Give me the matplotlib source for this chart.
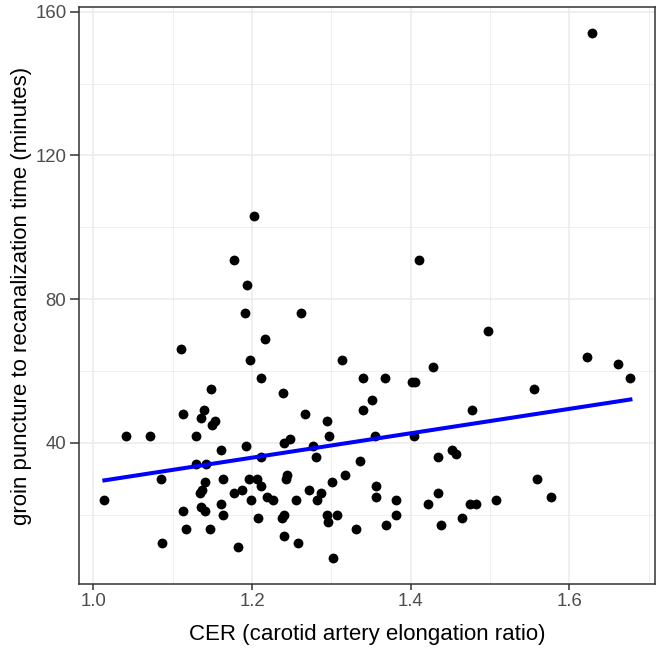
import numpy as np
import matplotlib
matplotlib.use('Agg')
import matplotlib.pyplot as plt

plt.rcParams['font.family'] = ['Liberation Sans', 'DejaVu Sans']

# CER values and groin puncture to recanalization time (minutes)
cer = [1.191, 1.262, 1.217, 1.111, 1.197, 1.314, 1.211, 1.340, 1.148, 1.239,
       1.351, 1.113, 1.139, 1.136, 1.267, 1.340, 1.153, 1.150, 1.294, 1.041,
       1.071, 1.130, 1.297, 1.240, 1.248, 1.192, 1.277, 1.161, 1.211, 1.281,
       1.355, 1.336, 1.129, 1.142, 1.014, 1.085, 1.163, 1.196, 1.206, 1.244,
       1.243, 1.317, 1.141, 1.211, 1.301, 1.137, 1.135, 1.177, 1.188, 1.272,
       1.287, 1.219, 1.227, 1.199, 1.255, 1.282, 1.161, 1.356, 1.356, 1.136,
       1.141, 1.113, 1.163, 1.240, 1.238, 1.208, 1.294, 1.307, 1.296, 1.117,
       1.147, 1.331, 1.240, 1.086, 1.182, 1.258, 1.302, 1.497, 1.622, 1.661,
       1.677, 1.368, 1.402, 1.406, 1.428, 1.556, 1.477, 1.404, 1.435, 1.452,
       1.457, 1.559, 1.577, 1.435, 1.422, 1.381, 1.382, 1.369, 1.438, 1.465,
       1.475, 1.483, 1.508, 1.202, 1.177, 1.194, 1.628, 1.411]
time_min = [76, 76, 69, 66, 63, 63, 58, 58, 55, 54,
            52, 48, 49, 47, 48, 49, 46, 45, 46, 42,
            42, 42, 42, 40, 41, 39, 39, 38, 36, 36,
            42, 35, 34, 34, 24, 30, 30, 30, 30, 31,
            30, 31, 29, 28, 29, 27, 26, 26, 27, 27,
            26, 25, 24, 24, 24, 24, 23, 28, 25, 22,
            21, 21, 20, 20, 19, 19, 20, 20, 18, 16,
            16, 16, 14, 12, 11, 12, 8, 71, 64, 62,
            58, 58, 57, 57, 61, 55, 49, 42, 36, 38,
            37, 30, 25, 26, 23, 24, 20, 17, 17, 19,
            23, 23, 24, 103, 91, 84, 154, 91]

x = np.array(cer)
y = np.array(time_min)
slope, intercept = np.polyfit(x, y, 1)
xs = np.array([x.min(), x.max()])

W, H = 661, 648
fig = plt.figure(figsize=(W/100, H/100), dpi=100)
ax = fig.add_axes([79/W, (H-584)/H, (655-79)/W, (584-7)/H])

ax.scatter(x, y, s=50, color='black', linewidths=0, zorder=3)
ax.plot(xs, intercept + slope*xs, color='#0000FF', lw=2.9, zorder=4)

ax.set_xlim(0.982, 1.708)
ax.set_ylim(0.7, 161.3)
ax.set_xticks([1.0, 1.2, 1.4, 1.6])
ax.set_xticklabels(['1.0', '1.2', '1.4', '1.6'])
ax.set_yticks([40, 80, 120, 160])
ax.set_xticks([1.1, 1.3, 1.5, 1.7], minor=True)
ax.set_yticks([20, 60, 100, 140], minor=True)

ax.grid(which='major', color='#EBEBEB', lw=1.1, zorder=0)
ax.grid(which='minor', color='#EBEBEB', lw=0.55, zorder=0)
ax.set_axisbelow(True)

for s in ax.spines.values():
    s.set_color('#333333')
    s.set_linewidth(1.1)
ax.tick_params(which='major', width=1.1, color='#333333',
               labelcolor='#4D4D4D', labelsize=13.4, pad=2.5)
ax.tick_params(axis='x', which='major', length=4.3)
ax.tick_params(axis='y', which='major', length=6.5)
ax.tick_params(which='minor', length=0)

ax.set_xlabel('CER (carotid artery elongation ratio)', fontsize=16, color='black', labelpad=9.5)
ax.set_ylabel('groin puncture to recanalization time (minutes)', fontsize=16, color='black', labelpad=2.5)

fig.savefig('out.png', dpi=100)
